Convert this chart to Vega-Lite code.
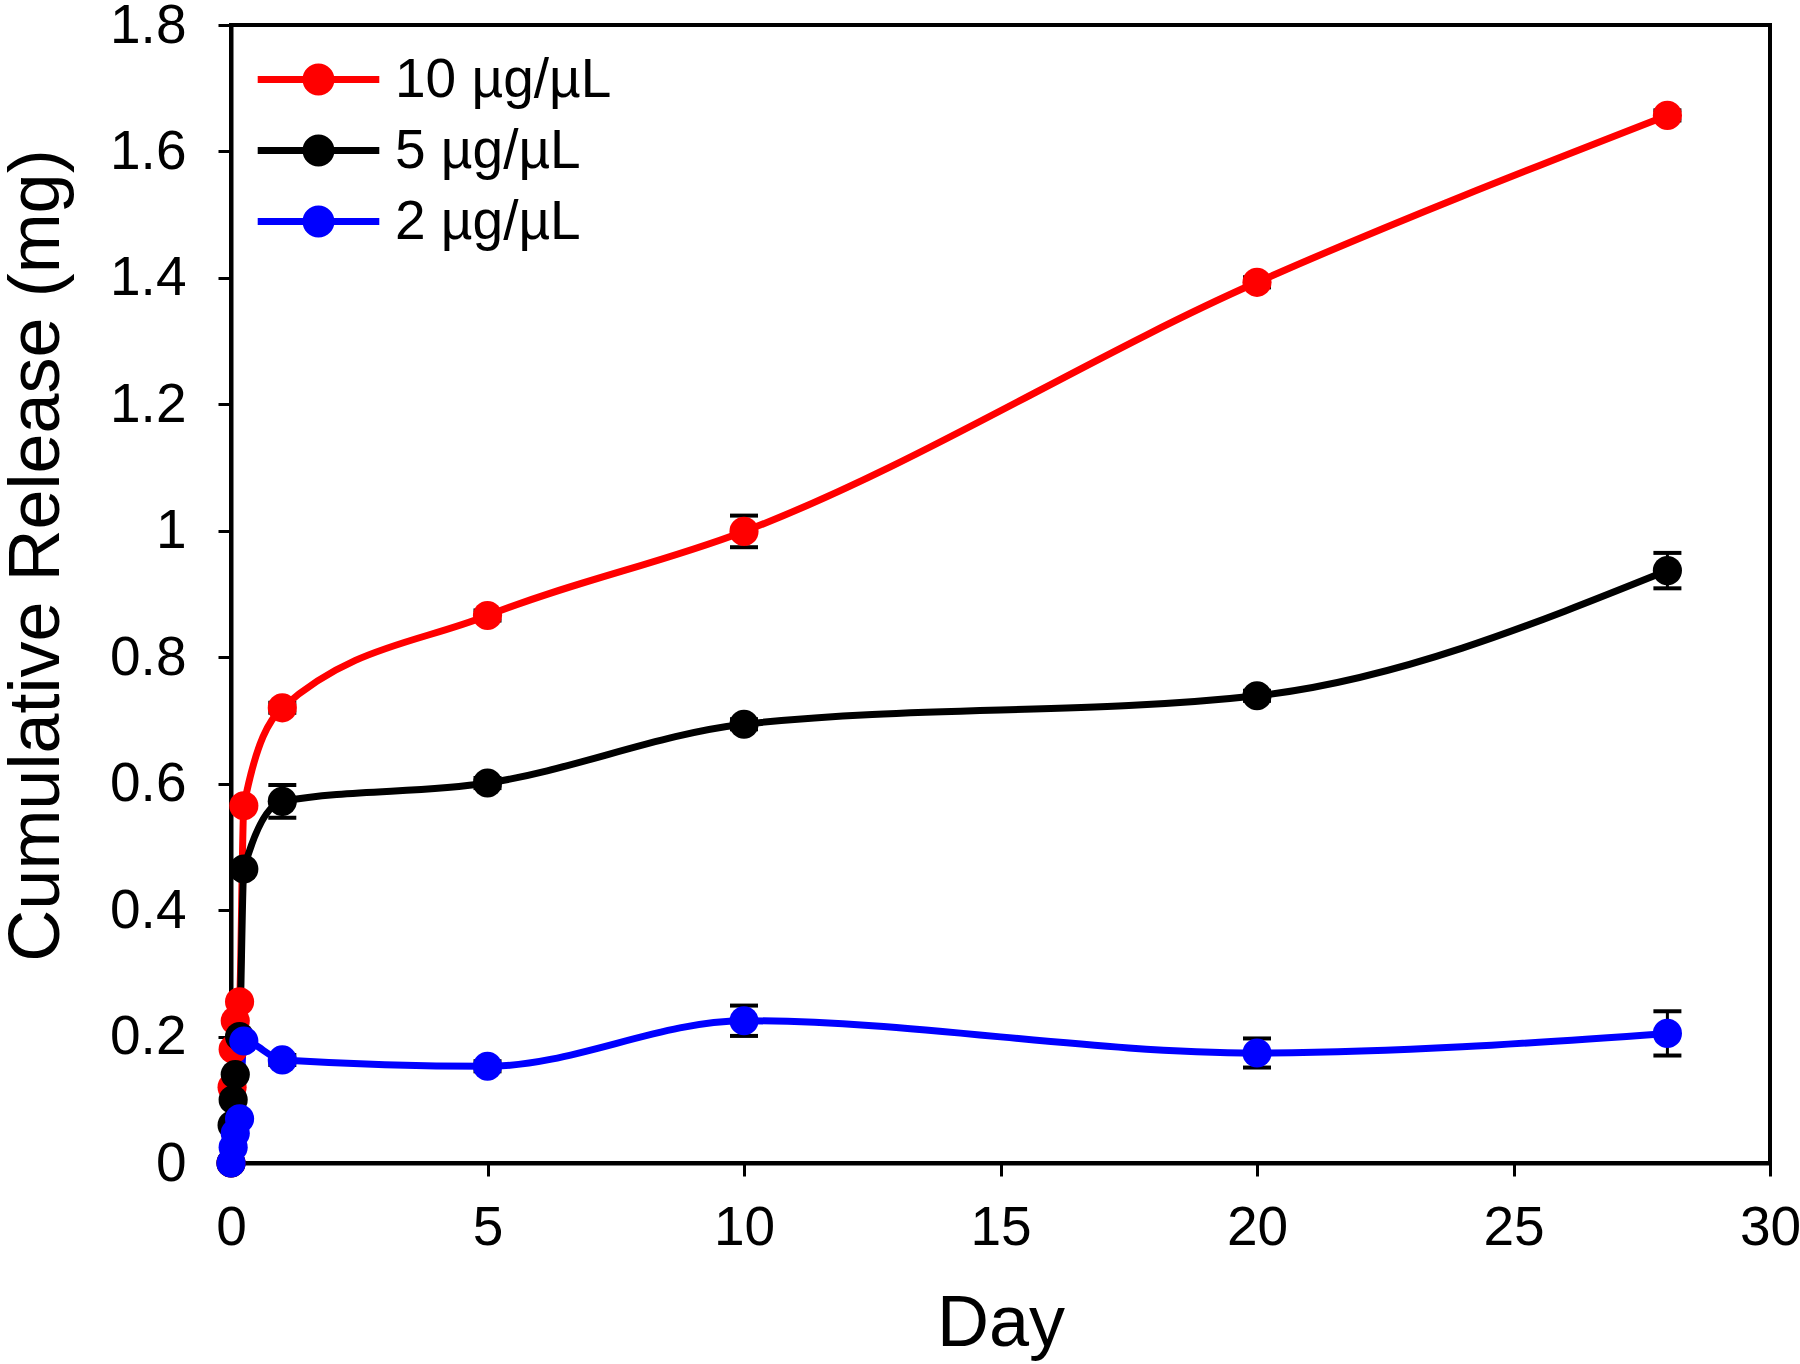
{
  "$schema": "https://vega.github.io/schema/vega-lite/v6.json",
  "autosize": "none",
  "width": 1539,
  "height": 1138,
  "padding": {"left": 231, "top": 25, "right": 30, "bottom": 201},
  "background": "white",
  "config": {
    "font": "Liberation Sans",
    "view": {"stroke": "black", "strokeWidth": 4},
    "axis": {
      "grid": false,
      "domainColor": "black",
      "domainWidth": 4,
      "tickColor": "black",
      "tickWidth": 3,
      "tickSize": 13,
      "labelFlush": false,
      "labelOverlap": false,
      "labelFont": "Liberation Sans",
      "labelFontSize": 55,
      "labelColor": "black",
      "titleFont": "Liberation Sans",
      "titleFontSize": 72,
      "titleFontWeight": "normal",
      "titleColor": "black"
    }
  },
  "datasets": {
    "release": [
      {"series": "10 µg/µL", "day": 0, "value": 0},
      {"series": "10 µg/µL", "day": 0.021, "value": 0.12},
      {"series": "10 µg/µL", "day": 0.042, "value": 0.18},
      {"series": "10 µg/µL", "day": 0.083, "value": 0.225},
      {"series": "10 µg/µL", "day": 0.167, "value": 0.255},
      {"series": "10 µg/µL", "day": 0.25, "value": 0.565},
      {"series": "10 µg/µL", "day": 1, "value": 0.72},
      {"series": "10 µg/µL", "day": 5, "value": 0.866},
      {"series": "10 µg/µL", "day": 10, "value": 0.999},
      {"series": "10 µg/µL", "day": 20, "value": 1.393},
      {"series": "10 µg/µL", "day": 28, "value": 1.657},
      {"series": "5 µg/µL", "day": 0, "value": 0},
      {"series": "5 µg/µL", "day": 0.021, "value": 0.06},
      {"series": "5 µg/µL", "day": 0.042, "value": 0.1},
      {"series": "5 µg/µL", "day": 0.083, "value": 0.14},
      {"series": "5 µg/µL", "day": 0.167, "value": 0.2},
      {"series": "5 µg/µL", "day": 0.25, "value": 0.465},
      {"series": "5 µg/µL", "day": 1, "value": 0.572},
      {"series": "5 µg/µL", "day": 5, "value": 0.601},
      {"series": "5 µg/µL", "day": 10, "value": 0.694},
      {"series": "5 µg/µL", "day": 20, "value": 0.739},
      {"series": "5 µg/µL", "day": 28, "value": 0.937},
      {"series": "2 µg/µL", "day": 0, "value": 0},
      {"series": "2 µg/µL", "day": 0.042, "value": 0.025},
      {"series": "2 µg/µL", "day": 0.083, "value": 0.047},
      {"series": "2 µg/µL", "day": 0.167, "value": 0.07},
      {"series": "2 µg/µL", "day": 0.25, "value": 0.193},
      {"series": "2 µg/µL", "day": 1, "value": 0.163},
      {"series": "2 µg/µL", "day": 5, "value": 0.153},
      {"series": "2 µg/µL", "day": 10, "value": 0.225},
      {"series": "2 µg/µL", "day": 20, "value": 0.174},
      {"series": "2 µg/µL", "day": 28, "value": 0.205}
    ],
    "errors": [
      {"series": "10 µg/µL", "day": 1, "lo": 0.712, "hi": 0.728},
      {"series": "10 µg/µL", "day": 5, "lo": 0.858, "hi": 0.874},
      {"series": "10 µg/µL", "day": 10, "lo": 0.974, "hi": 1.024},
      {"series": "10 µg/µL", "day": 20, "lo": 1.385, "hi": 1.401},
      {"series": "10 µg/µL", "day": 28, "lo": 1.649, "hi": 1.665},
      {"series": "5 µg/µL", "day": 1, "lo": 0.546, "hi": 0.598},
      {"series": "5 µg/µL", "day": 5, "lo": 0.593, "hi": 0.609},
      {"series": "5 µg/µL", "day": 10, "lo": 0.686, "hi": 0.702},
      {"series": "5 µg/µL", "day": 20, "lo": 0.731, "hi": 0.747},
      {"series": "5 µg/µL", "day": 28, "lo": 0.909, "hi": 0.965},
      {"series": "2 µg/µL", "day": 1, "lo": 0.155, "hi": 0.171},
      {"series": "2 µg/µL", "day": 5, "lo": 0.145, "hi": 0.161},
      {"series": "2 µg/µL", "day": 10, "lo": 0.201, "hi": 0.249},
      {"series": "2 µg/µL", "day": 20, "lo": 0.151, "hi": 0.197},
      {"series": "2 µg/µL", "day": 28, "lo": 0.17, "hi": 0.24}
    ]
  },
  "layer": [
    {
      "data": {"name": "errors"},
      "mark": {"type": "rule", "color": "black", "strokeWidth": 3, "opacity": 1},
      "encoding": {
        "x": {"field": "day", "type": "quantitative"},
        "y": {"field": "lo", "type": "quantitative"},
        "y2": {"field": "hi"}
      }
    },
    {
      "data": {"name": "errors"},
      "mark": {"type": "tick", "orient": "horizontal", "color": "black", "opacity": 1, "size": 28, "thickness": 4},
      "encoding": {
        "x": {"field": "day", "type": "quantitative"},
        "y": {"field": "lo", "type": "quantitative"}
      }
    },
    {
      "data": {"name": "errors"},
      "mark": {"type": "tick", "orient": "horizontal", "color": "black", "opacity": 1, "size": 28, "thickness": 4},
      "encoding": {
        "x": {"field": "day", "type": "quantitative"},
        "y": {"field": "hi", "type": "quantitative"}
      }
    },
    {
      "data": {"name": "release"},
      "mark": {"type": "line", "interpolate": "monotone", "strokeWidth": 7},
      "encoding": {
        "x": {"field": "day", "type": "quantitative"},
        "y": {"field": "value", "type": "quantitative"},
        "color": {
          "field": "series", "type": "nominal",
          "scale": {"domain": ["10 µg/µL", "5 µg/µL", "2 µg/µL"], "range": ["#ff0000", "#000000", "#0000ff"]},
          "legend": null
        },
        "order": {"field": "day"}
      }
    },
    {
      "data": {"name": "release"},
      "mark": {"type": "point", "filled": true, "opacity": 1, "size": 850, "strokeWidth": 0},
      "encoding": {
        "x": {
          "field": "day", "type": "quantitative",
          "scale": {"domain": [0, 30], "nice": false, "zero": false},
          "axis": {"values": [0, 5, 10, 15, 20, 25, 30], "title": "Day", "labelPadding": 25, "titleX": 769.5, "titleY": 182, "titleBaseline": "alphabetic", "titleAnchor": null}
        },
        "y": {
          "field": "value", "type": "quantitative",
          "scale": {"domain": [0, 1.8], "nice": false},
          "axis": {"values": [0, 0.2, 0.4, 0.6, 0.8, 1, 1.2, 1.4, 1.6, 1.8], "format": "~g", "title": "Cumulative Release (mg)", "labelPadding": 32, "titleX": -195, "titleY": 530, "titleBaseline": "middle", "titleAnchor": null}
        },
        "color": {
          "field": "series", "type": "nominal",
          "scale": {"domain": ["10 µg/µL", "5 µg/µL", "2 µg/µL"], "range": ["#ff0000", "#000000", "#0000ff"]},
          "legend": {
            "title": null,
            "orient": "none",
            "legendX": 60,
            "legendY": 27,
            "padding": 0,
            "symbolType": "M-3.8,-0.22H3.8V0.22H-3.8Z M-1,0A1,1 0 1 1 1,0A1,1 0 1 1 -1,0Z",
            "symbolSize": 1024,
            "symbolStrokeWidth": 0,
            "symbolOpacity": 1,
            "labelOffset": 49,
            "labelFont": "Liberation Sans",
            "labelFontSize": 55,
            "labelColor": "black",
            "rowPadding": 15,
            "labelLimit": 500
          }
        }
      }
    }
  ],
  "resolve": {"legend": {"color": "independent"}}
}
